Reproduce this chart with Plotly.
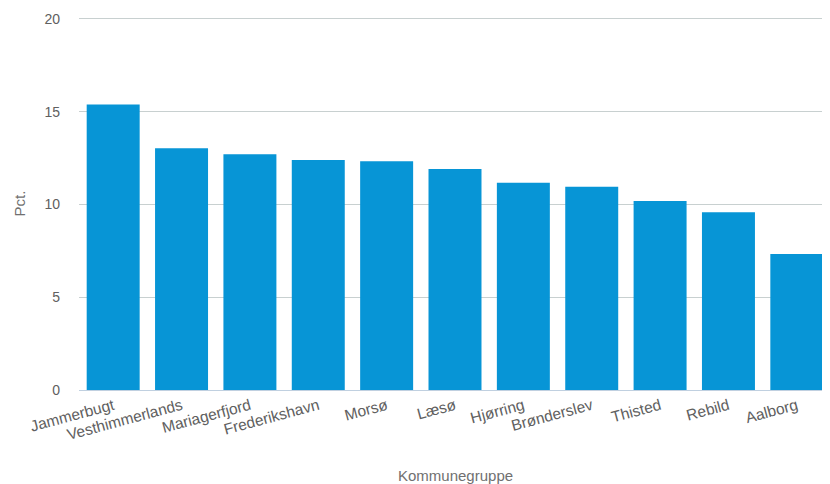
import plotly.graph_objects as go

categories = ["Jammerbugt", "Vesthimmerlands", "Mariagerfjord", "Frederikshavn", "Morsø",
              "Læsø", "Hjørring", "Brønderslev", "Thisted", "Rebild", "Aalborg"]
values = [15.38, 13.03, 12.71, 12.40, 12.33, 11.91, 11.17, 10.95, 10.18, 9.58, 7.33]
y_ticks = [0, 5, 10, 15, 20]

FONT = "Liberation Sans, Arial, sans-serif"

fig = go.Figure(go.Bar(
    x=categories, y=values,
    marker=dict(color="#0795d6", line=dict(width=0)),
    hoverinfo="x+y",
))

fig.update_layout(
    width=830, height=484,
    margin=dict(l=71, r=7, t=9, b=102),
    paper_bgcolor="white", plot_bgcolor="white",
    bargap=0.225,
    showlegend=False,
    font=dict(family=FONT, color="#606060"),
    annotations=[dict(
        text="Kommunegruppe", xref="paper", yref="paper", x=0.5, y=0,
        xanchor="center", yanchor="middle", yshift=-85, showarrow=False,
        font=dict(size=15, color="#707070"),
    )],
)
fig.update_xaxes(
    type="category",
    tickangle=-15,
    tickfont=dict(size=15.5, color="#606060"),
    showline=True, linecolor="#C0D0E0", linewidth=1,
    showgrid=False, ticks="",
    automargin=False,
)
fig.update_yaxes(
    range=[0, 20.1],
    tickvals=y_ticks,
    tickfont=dict(size=14, color="#606060"),
    showgrid=True, gridcolor="#C8D0D0", gridwidth=1,
    zeroline=False, ticks="",
    ticklabelstandoff=18,
    title=dict(text="Pct.", font=dict(size=15, color="#707070")),
    automargin=False,
)

fig.write_html("out.html")
